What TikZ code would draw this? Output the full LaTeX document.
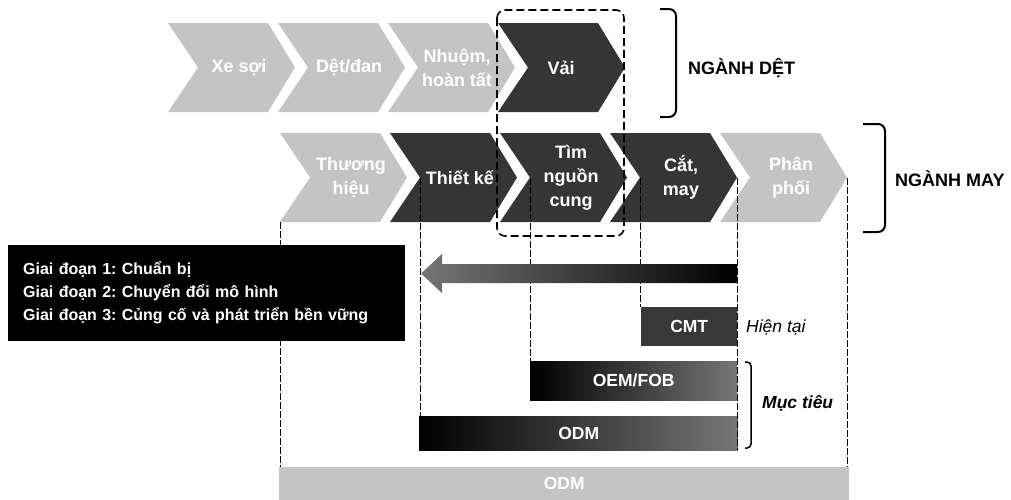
\documentclass[tikz,border=0pt]{standalone}
\usepackage{fontspec}
\setmainfont{Liberation Sans}
\frenchspacing
\definecolor{grayfill}{HTML}{C4C4C4}
\definecolor{darkfill}{HTML}{353535}
\definecolor{cmtfill}{HTML}{383838}
\definecolor{shadeend}{HTML}{767676}
\newcommand\mychev[6]{%
  \fill[#4] (#2,#3-44.5) -- ++(100,0) -- ++(27,44.5) -- ++(-27,44.5) -- ++(-100,0) -- ++(30,-44.5) -- cycle;
  \coordinate (#1-n) at (#2+30,#3);
  \coordinate (#1-t) at (#2+127,#3);
  \coordinate (#1-l) at (#2,#3+44.5);
  \node[chevtxt] (#1) at (#2+#5,#3) {#6};
}
\begin{document}
\begin{tikzpicture}[x=1pt,y=-1pt,
  chevtxt/.style={font=\bfseries\fontsize{18}{24}\selectfont, text=white, align=center, inner sep=0pt},
  guide/.style={draw=black, line width=0.6pt, dash pattern=on 7pt off 2pt},
  dashbox/.style={draw=black, line width=1.6pt, dash pattern=on 8pt off 4pt, rounded corners=8pt},
  brk/.style={draw=black, line width=2pt, rounded corners=7pt},
  bar/.style={anchor=north west, inner sep=0pt, font=\bfseries\fontsize{17.5}{20}\selectfont, text=white},
  lbl/.style={font=\bfseries\fontsize{18}{22}\selectfont, text=black, inner sep=0pt},
  note/.style={font=\fontsize{17.5}{22}\selectfont, text=black, inner sep=0pt, anchor=west},
]
\useasboundingbox (0,0) rectangle (1011,499);

% top row (textile)
\mychev{xe}{168}{67.5}{grayfill}{71}{Xe sợi}
\mychev{det}{278}{67.5}{grayfill}{71}{Dệt/đan}
\mychev{nhuom}{388}{67.5}{grayfill}{69}{Nhuộm,\\hoàn tất}
\mychev{vai}{498}{67.5}{darkfill}{63}{Vải}

% second row (garment)
\mychev{thuong}{280}{177.5}{grayfill}{71}{Thương\\hiệu}
\mychev{thietke}{390}{177.5}{darkfill}{70}{Thiết kế}
\mychev{tim}{500}{177.5}{darkfill}{71}{Tìm\\nguồn\\cung}
\mychev{cat}{610}{177.5}{darkfill}{71}{Cắt,\\may}
\mychev{phan}{720}{177.5}{grayfill}{71}{Phân\\phối}

% dashed highlight box
\draw[dashbox] (497,10) rectangle (624,236);

% brackets and labels
\draw[brk] (660,9) -- (676,9) -- (676,117) -- (660,117);
\draw[brk] (863,124) -- (885,124) -- (885,232) -- (863,232);
\node[lbl, anchor=west] (nganhdet) at (688,68) {NGÀNH DỆT};
\node[lbl, anchor=west] (nganhmay) at (895,179) {NGÀNH MAY};

% bars
\node[bar, fill=cmtfill, minimum width=96pt, minimum height=39pt] (cmt) at (641,307) {CMT};
\node[bar, left color=black, right color=shadeend, minimum width=207pt, minimum height=39pt] (oem) at (530,361) {OEM/FOB};
\node[bar, left color=black, right color=shadeend, minimum width=319pt, minimum height=34pt] (odm) at (419,416) {ODM};
\node[bar, fill=grayfill, minimum width=570pt, minimum height=33pt] (odmg) at (279,467) {ODM};

% guide lines
\draw[guide] (thuong-l) -- (thuong-l |- odmg.north);
\draw[guide] (thietke-n) -- (thietke-n |- odm.north);
\draw[guide] (tim-n) -- (tim-n |- oem.north);
\draw[guide] (cat-n) -- (cat-n |- cmt.north);
\draw[guide] (cat-t) -- (cat-t |- odm.south);
\draw[guide] (phan-t) -- (phan-t |- odmg.north);

% arrow
\shade[left color=shadeend, right color=black] (737,264) -- (442,264) -- (442,254) -- (421,273.5) -- (442,293) -- (442,283) -- (737,283) -- cycle;

% legend box
\node[anchor=north west, fill=black, inner xsep=15pt, inner ysep=0pt, text width=367pt, minimum height=96pt, align=left, text=white, font=\bfseries\fontsize{16}{23}\selectfont] (legend) at (8,245) {Giai đoạn 1: Chuẩn bị\\Giai đoạn 2: Chuyển đổi mô hình\\Giai đoạn 3: Củng cố và phát triển bền vững};

% target bracket and notes
\draw[brk, line width=1.5pt, rounded corners=4pt] (745,362) -- (751,362) -- (751,448) -- (745,448);
\node[note] (hientai) at (746,327) {\itshape Hiện tại};
\node[note, font=\bfseries\itshape\fontsize{17.5}{22}\selectfont] (muctieu) at (762,403) {Mục tiêu};
\end{tikzpicture}
\end{document}
